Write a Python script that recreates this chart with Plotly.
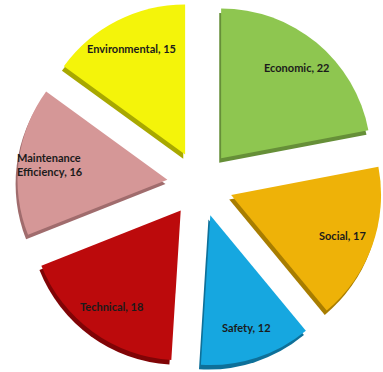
import math
import plotly.graph_objects as go

categories = ["Economic", "Social", "Safety", "Technical", "Maintenance Efficiency", "Environmental"]
display_names = ["Economic", "Social", "Safety", "Technical", "Maintenance<br>Efficiency", "Environmental"]
values = [22, 17, 12, 18, 16, 15]
colors = ["#8EC650", "#EEB208", "#16A7E0", "#BC0A0C", "#D59797", "#F4F40A"]
side_colors = ["#668F38", "#A87D00", "#0E7099", "#800406", "#A06C6D", "#A8A800"]

W, H = 383, 372
PULL = 0.22
LABEL_R = 0.79  # label distance beyond the pull, as fraction of slice radius

main_dom = dict(x=[0.045, 1.0], y=[0.012, 1.0])
side_dom = dict(x=[0.040, 0.995], y=[0.0, 0.988])

fig = go.Figure()

fig.add_trace(go.Pie(
    labels=categories, values=values, sort=False, direction="clockwise", rotation=0,
    pull=[PULL] * len(values),
    marker=dict(colors=side_colors, line=dict(width=0)),
    textinfo="none", hoverinfo="skip", showlegend=False,
    domain=side_dom,
))

fig.add_trace(go.Pie(
    labels=categories, values=values, sort=False, direction="clockwise", rotation=0,
    pull=[PULL] * len(values),
    marker=dict(colors=colors, line=dict(width=0)),
    textinfo="none", hoverinfo="label+value", showlegend=False,
    domain=main_dom,
))

# labels placed along each slice's mid-angle, derived from the values
dw = (main_dom["x"][1] - main_dom["x"][0]) * W
dh = (main_dom["y"][1] - main_dom["y"][0]) * H
cx = (main_dom["x"][0] + main_dom["x"][1]) / 2 * W
cy = (main_dom["y"][0] + main_dom["y"][1]) / 2 * H
r = min(dw, dh) / 2 / (1 + PULL)
total = sum(values)
cum = 0
for name, v in zip(display_names, values):
    mid = (cum + v / 2) / total * 2 * math.pi
    cum += v
    d = (PULL + LABEL_R) * r
    px = cx + d * math.sin(mid)
    py = cy + d * math.cos(mid)
    fig.add_annotation(
        x=px / W, y=py / H, xref="paper", yref="paper",
        xanchor="center", yanchor="middle",
        text=f"<b>{name}, {v}</b>", showarrow=False, align="left",
        font=dict(family="Lato, Open Sans, sans-serif", size=11, color="#1b1b1b"),
    )

fig.update_layout(
    width=W, height=H,
    margin=dict(l=0, r=0, t=0, b=0),
    paper_bgcolor="white", plot_bgcolor="white",
    showlegend=False,
)

fig.write_html("out.html")
